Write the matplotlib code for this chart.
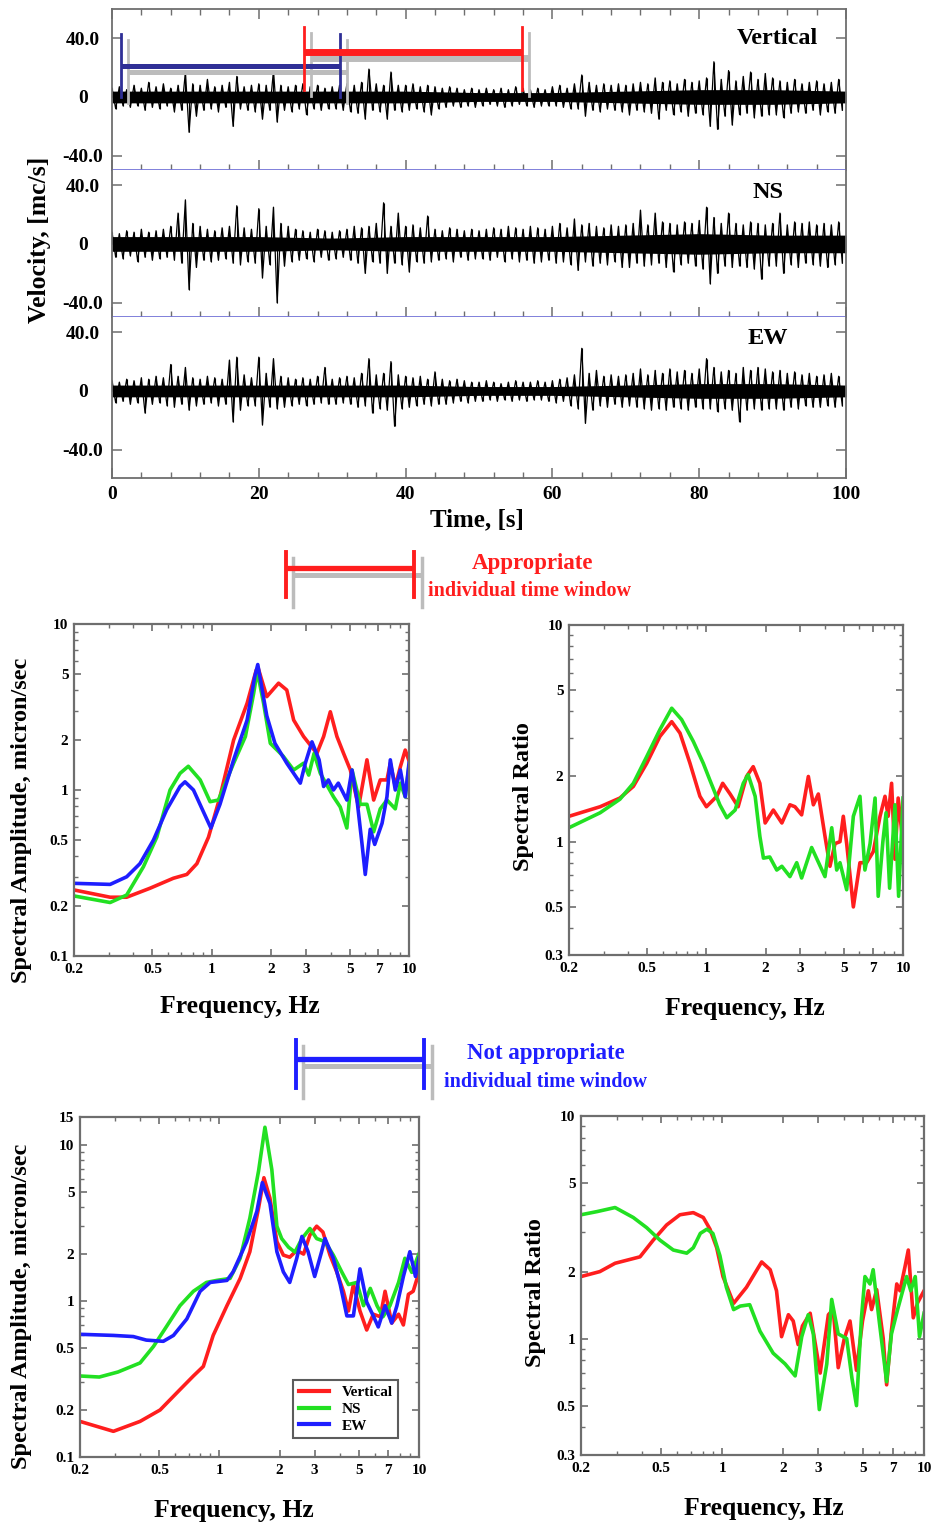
import numpy as np
import matplotlib
matplotlib.use('Agg')
import matplotlib.pyplot as plt
from matplotlib.lines import Line2D

# ---- seismic records, 0.5 s samples (velocity, mc/s) ----
components = ['Vertical', 'NS', 'EW']
vert = [
    6, -8, 7, -6, 5, -7, 8, -6, 6, -9, 10, -7, 7, -8, 9, -6, 6, -10, 8, -9,
    17, -24, 9, -13, 8, -9, 12, -8, 7, -10, 8, -7, 10, -20, 14, -8, 7, -9, 8, -10,
    9, -15, 8, -9, 18, -17, 8, -9, 7, -10, 8, -8, 9, -12, 7, -8, 8, -9, 6, -8,
    7, -8, 8, -9, 9, -10, 8, -11, 10, -15, 19, -9, 9, -10, 8, -15, 17, -9, 8, -10,
    8, -9, 9, -8, 7, -10, 8, -12, 7, -8, 6, -7, 7, -6, 6, -7, 5, -6, 6, -7,
    5, -6, 6, -5, 5, -6, 6, -7, 5, -6, 7, -5, 6, -6, 5, -7, 6, -6, 5, -6,
    7, -6, 8, -7, 6, -8, 9, -8, 15, -13, 10, -9, 8, -10, 9, -8, 8, -9, 9, -10,
    8, -12, 9, -9, 10, -10, 9, -11, 13, -15, 10, -9, 11, -12, 9, -10, 12, -13, 10, -11,
    11, -12, 13, -20, 24, -22, 12, -13, 18, -19, 11, -12, 14, -11, 17, -14, 12, -13, 16, -12,
    13, -12, 11, -14, 10, -11, 12, -10, 9, -11, 10, -9, 11, -12, 9, -10, 10, -11, 12, -9]
ns = [
    8, -9, 7, -10, 9, -8, 8, -12, 10, -9, 8, -11, 9, -10, 10, -9, 12, -11, 21, -13,
    30, -31, 14, -16, 12, -11, 10, -12, 9, -11, 11, -10, 12, -13, 26, -14, 11, -12, 10, -13,
    24, -23, 12, -14, 25, -40, 14, -15, 12, -12, 10, -11, 9, -10, 8, -12, 10, -9, 9, -11,
    8, -10, 9, -9, 10, -11, 12, -13, 11, -20, 12, -12, 14, -13, 28, -20, 12, -13, 21, -14,
    12, -19, 13, -12, 11, -13, 19, -12, 10, -11, 9, -10, 11, -12, 10, -9, 9, -11, 10, -10,
    9, -10, 10, -11, 11, -9, 10, -12, 12, -10, 11, -12, 10, -11, 12, -13, 11, -12, 10, -11,
    12, -13, 14, -12, 11, -14, 17, -18, 13, -12, 14, -15, 12, -13, 11, -14, 13, -12, 12, -16,
    13, -16, 14, -13, 23, -15, 13, -14, 21, -13, 15, -16, 14, -19, 13, -14, 15, -13, 14, -15,
    16, -17, 25, -27, 18, -20, 14, -15, 21, -16, 14, -15, 13, -16, 15, -17, 14, -24, 13, -15,
    14, -15, 21, -20, 13, -14, 15, -16, 14, -13, 15, -14, 13, -15, 14, -16, 13, -14, 15, -13]
ew = [
    7, -8, 6, -7, 8, -9, 7, -8, 9, -15, 8, -9, 10, -8, 9, -10, 18, -11, 10, -9,
    16, -13, 9, -10, 8, -9, 10, -8, 9, -10, 8, -9, 21, -21, 23, -13, 11, -10, 9, -10,
    23, -23, 12, -11, 22, -12, 10, -11, 9, -10, 8, -9, 9, -10, 8, -9, 10, -8, 16, -9,
    8, -9, 9, -8, 10, -9, 9, -11, 12, -10, 22, -15, 11, -12, 12, -13, 20, -24, 11, -12,
    10, -11, 9, -10, 10, -9, 8, -10, 13, -9, 8, -9, 7, -8, 8, -7, 7, -8, 6, -7,
    6, -7, 7, -6, 6, -7, 5, -6, 6, -7, 7, -6, 6, -7, 6, -6, 7, -6, 6, -7,
    7, -8, 8, -7, 9, -10, 11, -12, 29, -22, 12, -13, 14, -10, 10, -11, 11, -9, 10, -11,
    11, -10, 12, -11, 15, -12, 11, -13, 14, -12, 12, -13, 15, -11, 13, -12, 14, -13, 12, -11,
    15, -12, 22, -12, 16, -14, 13, -12, 14, -13, 12, -21, 16, -13, 14, -12, 16, -13, 15, -12,
    13, -12, 14, -13, 12, -11, 13, -12, 11, -10, 12, -11, 10, -11, 11, -10, 12, -11, 10, -10]
traces = [vert, ns, ew]

# half-width of the dense noise core, read every 10 s
core_times = [0, 10, 20, 30, 40, 50, 60, 70, 80, 90, 100]
vert_core = [4, 4, 4, 4, 4, 3, 3, 4, 5, 5, 4]
ns_core = [5, 5, 5, 4, 5, 5, 5, 6, 7, 6, 6]
ew_core = [4, 4, 4, 4, 4, 3, 3, 4, 5, 5, 4]
cores = [vert_core, ns_core, ew_core]

# time windows (s)
good_window = (26.2, 55.9)
bad_window = (1.2, 31.0)

# ---- spectra for the appropriate window ----
f_a_v = [0.2, 0.305, 0.37, 0.486, 0.638, 0.747, 0.84, 0.962, 1.10, 1.29, 1.51, 1.68, 1.72, 1.90, 2.18, 2.40, 2.60,
         2.92, 3.41, 3.69, 3.99, 4.31, 4.66, 5.04, 5.55, 6.12, 6.62, 7.15, 7.73, 8.04, 8.52, 9.04, 9.57, 10.0]
a_a_v = [0.25, 0.226, 0.226, 0.256, 0.294, 0.31, 0.36, 0.52, 0.91, 2.0, 3.33, 5.28, 5.4, 3.65, 4.4, 4.0, 2.64,
         2.1, 1.66, 2.1, 2.96, 2.1, 1.66, 1.32, 0.79, 1.52, 0.87, 1.15, 1.15, 1.45, 1.05, 1.38, 1.74, 1.5]
f_a_ns = [0.2, 0.305, 0.37, 0.45, 0.526, 0.614, 0.69, 0.76, 0.873, 0.98, 1.08, 1.29, 1.48, 1.63, 1.70, 1.83, 1.98,
          2.30, 2.60, 2.92, 3.10, 3.30, 3.55, 4.14, 4.48, 4.84, 5.14, 5.66, 6.12, 6.62, 7.15, 7.73, 8.52, 9.04, 9.57, 10.0]
a_a_ns = [0.23, 0.21, 0.233, 0.345, 0.52, 1.0, 1.26, 1.39, 1.15, 0.85, 0.87, 1.45, 2.1, 3.82, 5.2, 3.33, 1.91,
          1.6, 1.32, 1.45, 1.23, 1.66, 1.26, 0.91, 0.79, 0.59, 1.32, 0.82, 0.82, 0.56, 0.77, 0.87, 0.77, 1.1, 0.91, 1.4]
f_a_ew = [0.2, 0.305, 0.37, 0.432, 0.506, 0.59, 0.69, 0.731, 0.807, 0.906, 0.989, 1.10, 1.29, 1.51, 1.65, 1.71,
          1.90, 2.09, 2.40, 2.81, 2.98, 3.22, 3.5, 3.69, 3.9, 4.14, 4.38, 4.84, 5.14, 5.45, 5.77, 6.0, 6.36, 6.7,
          7.3, 7.73, 8.04, 8.52, 9.04, 9.57, 10.0]
a_a_ew = [0.274, 0.27, 0.30, 0.36, 0.50, 0.76, 1.05, 1.12, 1.0, 0.74, 0.59, 0.82, 1.52, 2.64, 4.8, 5.7,
          2.8, 1.91, 1.45, 1.1, 1.45, 1.95, 1.52, 1.05, 1.15, 1.0, 1.1, 0.87, 1.32, 0.87, 0.48, 0.31, 0.58, 0.47,
          0.63, 0.91, 1.52, 1.0, 1.32, 0.91, 1.45]

f_b_v = [0.2, 0.288, 0.363, 0.425, 0.497, 0.58, 0.666, 0.734, 0.825, 0.927, 1.0, 1.13, 1.21, 1.32, 1.45, 1.60,
         1.73, 1.87, 1.99, 2.19, 2.42, 2.66, 2.82, 3.05, 3.3, 3.5, 3.71, 4.01, 4.25, 4.51, 4.78, 4.97, 5.17, 5.59,
         6.04, 6.53, 7.06, 7.64, 8.1, 8.4, 8.75, 9.1, 9.45, 10.0]
r_b_v = [1.31, 1.45, 1.59, 1.8, 2.3, 3.06, 3.58, 3.17, 2.3, 1.62, 1.45, 1.62, 1.86, 1.66, 1.45, 2.0,
         2.22, 1.86, 1.22, 1.4, 1.22, 1.48, 1.45, 1.33, 2.0, 1.48, 1.66, 1.06, 0.77, 0.98, 1.0, 1.31, 0.98, 0.50,
         0.8, 0.8, 0.9, 1.31, 1.62, 1.31, 1.86, 0.83, 1.59, 0.98]
f_b_ns = [0.2, 0.288, 0.363, 0.425, 0.497, 0.58, 0.666, 0.748, 0.858, 0.964, 1.04, 1.17, 1.27, 1.40, 1.54, 1.63,
          1.77, 1.87, 1.95, 2.1, 2.28, 2.42, 2.66, 2.88, 3.05, 3.43, 4.01, 4.34, 4.6, 4.78, 5.17, 5.59, 6.04, 6.4,
          6.8, 7.21, 7.48, 7.9, 8.2, 8.55, 9.1, 9.5, 10.0]
r_b_ns = [1.16, 1.36, 1.57, 1.86, 2.47, 3.29, 4.13, 3.66, 2.9, 2.3, 1.93, 1.48, 1.29, 1.4, 1.86, 2.04,
          1.62, 1.06, 0.84, 0.85, 0.74, 0.77, 0.69, 0.8, 0.68, 0.94, 0.69, 1.16, 0.74, 0.8, 0.6, 1.31, 1.62, 0.74,
          0.98, 1.59, 0.56, 1.0, 1.36, 0.61, 1.48, 0.56, 1.59]

# ---- spectra for the not appropriate window ----
f_c_v = [0.2, 0.294, 0.4, 0.504, 0.634, 0.74, 0.83, 0.93, 1.09, 1.27, 1.42, 1.57, 1.67, 1.79, 1.94, 2.09, 2.25,
         2.44, 2.64, 2.84, 3.07, 3.3, 3.58, 3.87, 4.18, 4.43, 4.69, 5.06, 5.47, 5.9, 6.4, 6.76, 7.3, 7.9, 8.35,
         8.85, 9.35, 10.0]
a_c_v = [0.169, 0.146, 0.169, 0.20, 0.27, 0.33, 0.38, 0.6, 0.93, 1.39, 2.06, 3.92, 6.13, 4.54, 2.39, 1.96, 1.9,
         2.1, 1.99, 2.64, 3.0, 2.75, 1.96, 1.53, 1.15, 0.86, 1.27, 0.86, 0.65, 0.82, 0.79, 1.15, 0.72, 0.82, 0.70,
         1.1, 1.15, 1.52]
f_c_ns = [0.2, 0.25, 0.31, 0.4, 0.467, 0.545, 0.634, 0.74, 0.86, 0.97, 1.13, 1.27, 1.42, 1.57, 1.69, 1.83, 1.94,
          2.05, 2.22, 2.39, 2.59, 2.84, 3.07, 3.38, 3.72, 4.1, 4.43, 4.88, 5.27, 5.7, 6.16, 6.6, 7.15, 7.9, 8.5,
          9.2, 10.0]
a_c_ns = [0.33, 0.325, 0.35, 0.40, 0.51, 0.69, 0.93, 1.15, 1.31, 1.35, 1.39, 1.87, 3.38, 6.77, 12.9, 6.9, 3.0,
          2.5, 2.2, 2.05, 2.5, 2.9, 2.5, 2.39, 1.96, 1.53, 1.27, 1.31, 0.93, 1.2, 0.93, 0.79, 0.93, 1.31, 1.87,
          1.52, 2.0]
f_c_ew = [0.2, 0.294, 0.37, 0.43, 0.523, 0.588, 0.686, 0.8, 0.898, 1.09, 1.17, 1.37, 1.54, 1.64, 1.79, 1.94, 2.09,
          2.25, 2.44, 2.59, 2.78, 3.0, 3.25, 3.38, 3.72, 4.03, 4.35, 4.69, 5.06, 5.47, 5.9, 6.25, 6.76, 7.3, 7.75,
          8.35, 9.0, 9.6, 10.0]
a_c_ew = [0.61, 0.6, 0.59, 0.56, 0.55, 0.6, 0.765, 1.15, 1.31, 1.35, 1.53, 2.39, 3.74, 5.7, 4.2, 2.06, 1.53,
          1.31, 1.87, 2.58, 2.06, 1.43, 2.06, 2.5, 1.87, 1.27, 0.80, 0.80, 1.6, 0.98, 0.8, 0.68, 0.93, 0.72, 0.93,
          1.43, 2.06, 1.43, 1.87]

f_d_v = [0.2, 0.248, 0.295, 0.392, 0.456, 0.531, 0.618, 0.72, 0.807, 0.871, 0.94, 1.01, 1.14, 1.32, 1.57, 1.73,
         1.86, 1.97, 2.13, 2.25, 2.38, 2.5, 2.73, 3.06, 3.36, 3.55, 3.76, 4.03, 4.3, 4.63, 4.96, 5.3, 5.5, 5.83,
         6.28, 6.53, 6.9, 7.33, 7.6, 8.05, 8.36, 8.85, 9.3, 10.0]
r_d_v = [1.90, 2.0, 2.18, 2.33, 2.77, 3.24, 3.6, 3.68, 3.5, 3.1, 2.56, 1.9, 1.44, 1.7, 2.21, 2.04,
         1.64, 1.02, 1.28, 1.2, 0.94, 1.14, 1.3, 0.70, 1.28, 1.35, 0.74, 1.0, 1.2, 0.72, 1.2, 1.64, 1.35, 1.66,
         1.0, 0.62, 1.09, 1.76, 1.64, 2.1, 2.5, 1.24, 1.45, 1.64]
f_d_ns = [0.2, 0.24, 0.295, 0.363, 0.423, 0.492, 0.573, 0.668, 0.72, 0.78, 0.84, 0.9, 0.975, 1.05, 1.14, 1.23,
          1.37, 1.54, 1.79, 2.05, 2.3, 2.48, 2.67, 2.83, 3.03, 3.3, 3.49, 3.76, 4.14, 4.4, 4.63, 4.9, 5.1, 5.4,
          5.6, 6.0, 6.53, 6.9, 7.4, 8.2, 8.6, 9.05, 9.5, 10.0]
r_d_ns = [3.6, 3.72, 3.88, 3.5, 3.15, 2.77, 2.5, 2.42, 2.56, 2.97, 3.1, 2.97, 2.36, 1.7, 1.35, 1.4,
          1.42, 1.08, 0.86, 0.77, 0.68, 1.02, 1.28, 1.05, 0.48, 0.77, 1.5, 1.05, 1.0, 0.66, 0.50, 1.24, 1.9, 1.76,
          2.04, 1.2, 0.64, 1.05, 1.35, 1.9, 1.64, 1.9, 1.02, 1.3]

freq_ticks = [0.2, 0.5, 1, 2, 3, 5, 7, 10]
freq_labels = ['0.2', '0.5', '1', '2', '3', '5', '7', '10']
freq_minor = [0.3, 0.4, 0.6, 0.7, 0.8, 0.9, 4, 6, 8, 9]

W, H = 936, 1526
plt.rcParams['font.family'] = ['Liberation Serif', 'DejaVu Serif']
plt.rcParams['font.weight'] = 'bold'
plt.rcParams['axes.labelweight'] = 'bold'

RED = '#ff1e1e'
GREEN = '#22e022'
BLUE = '#1e1eff'
NAVY = '#2f2f96'
SHADOW = '#bcbcbc'
SPINE = '#6e6e6e'
SEP = '#7676d8'


def rect(l, t, r, b):
    return [l / W, 1 - b / H, (r - l) / W, (b - t) / H]


fig = plt.figure(figsize=(W / 100, H / 100), dpi=100)

# ---------------- velocity records ----------------
boxes = [(112, 9, 846, 170), (112, 170, 846, 317), (112, 317, 846, 478)]
limits = [(-49.7, 59.9), (-49.7, 50.3), (-59.2, 50.3)]
name_pos = [(96.2, 40), (91.5, 34.7), (92.1, 36)]
trace_axes = []
for i, vals in enumerate(traces):
    ax = fig.add_axes(rect(*boxes[i]))
    t = np.arange(len(vals)) * 0.5
    core = np.array(cores[i], dtype=float)
    ax.fill_between(core_times, -core, core, color='black', lw=0, zorder=2)
    ax.vlines(t, 0, vals, color='black', lw=0.8, zorder=2)
    ax.plot(t, vals, color='black', lw=0.9, zorder=2)
    ax.set_xlim(0, 100)
    ax.set_ylim(*limits[i])
    for s in ['left', 'right']:
        ax.spines[s].set_color(SPINE)
        ax.spines[s].set_linewidth(1.3)
    ax.spines['top'].set_visible(i == 0)
    ax.spines['top'].set_color(SPINE)
    ax.spines['top'].set_linewidth(1.3)
    ax.spines['bottom'].set_color(SEP if i < 2 else SPINE)
    ax.spines['bottom'].set_linewidth(1.3)
    ax.set_xticks(np.arange(0, 101, 20))
    ax.set_xticks(np.arange(0, 101, 4), minor=True)
    ax.tick_params(axis='x', which='both', direction='in', top=(i == 0), bottom=True,
                   labelbottom=(i == 2), color=SPINE, labelsize=14, pad=6)
    ax.tick_params(axis='x', which='major', length=7, width=1.1)
    ax.tick_params(axis='x', which='minor', length=4, width=1.0)
    if i < 2:
        for tk in ax.xaxis.get_major_ticks() + ax.xaxis.get_minor_ticks():
            tk.tick1line.set_color(SEP)
    ax.set_yticks([-40, 0, 40])
    ax.set_yticklabels(['-40.0', '0', '40.0'])
    ax.tick_params(axis='y', direction='in', left=True, right=True, length=7, width=1.1,
                   color=SPINE, labelsize=14, pad=21)
    for lbl in ax.get_yticklabels():
        lbl.set_horizontalalignment('center')
    ax.text(name_pos[i][0], name_pos[i][1], components[i], ha='right', va='center', fontsize=17.5)
    trace_axes.append(ax)


def window_bar(ax, win, color, v0, v1, yh, lw_h, lw_v):
    # grey shadow first, shifted right and down
    dx, dy = 0.95, -4.0
    ax.plot([win[0] + dx, win[1] + dx], [yh + dy, yh + dy], color=SHADOW, lw=lw_h, zorder=3, solid_capstyle='butt')
    for x in win:
        ax.plot([x + dx, x + dx], [v0 + dy, v1 + dy], color=SHADOW, lw=lw_v, zorder=3)
    ax.plot([win[0], win[1]], [yh, yh], color=color, lw=lw_h, zorder=4, solid_capstyle='butt')
    for x in win:
        ax.plot([x, x], [v0, v1], color=color, lw=lw_v, zorder=4)


window_bar(trace_axes[0], bad_window, NAVY, 0, 43, 21, 3.6, 2.0)
window_bar(trace_axes[0], good_window, RED, 4.8, 47.6, 30.6, 5.0, 2.0)

fig.text(40 / W, 1 - 240 / H, 'Velocity, [mc/s]', rotation=90, ha='center', va='center', fontsize=18.5)
fig.text(477 / W, 1 - 520 / H, 'Time, [s]', ha='center', va='center', fontsize=18)

# ---------------- window icons ----------------
ov = fig.add_axes([0, 0, 1, 1])
ov.set_xlim(0, W)
ov.set_ylim(H, 0)
ov.axis('off')


def icon(x0, x1, ytop, ybot, yh, color):
    ov.plot([x0 + 7, x1 + 8], [yh + 7, yh + 7], color=SHADOW, lw=3.6, solid_capstyle='butt')
    for x in (x0 + 7, x1 + 8):
        ov.plot([x, x], [ytop + 6, ybot + 10], color=SHADOW, lw=2.5)
    ov.plot([x0, x1], [yh, yh], color=color, lw=3.8, solid_capstyle='butt')
    for x in (x0, x1):
        ov.plot([x, x], [ytop, ybot], color=color, lw=2.8)


icon(286, 414, 552, 597, 568, RED)
ov.text(533, 564, 'Appropriate', color=RED, ha='center', va='center', fontsize=16.5)
ov.text(530, 591, 'individual time window', color=RED, ha='center', va='center', fontsize=14.5)
icon(296, 424, 1040, 1088, 1059, BLUE)
ov.text(546, 1054, 'Not appropriate', color=BLUE, ha='center', va='center', fontsize=16.5)
ov.text(545, 1082, 'individual time window', color=BLUE, ha='center', va='center', fontsize=14.5)

# ---------------- spectra ----------------


def spec_axes(box, ylim, yticks, ylabels, yminor):
    ax = fig.add_axes(rect(*box))
    ax.set_xscale('log')
    ax.set_yscale('log')
    ax.set_xlim(0.2, 10)
    ax.set_ylim(*ylim)
    ax.set_xticks(freq_ticks)
    ax.set_xticklabels(freq_labels)
    ax.set_xticks(freq_minor, minor=True)
    ax.set_xticklabels([], minor=True)
    ax.set_yticks(yticks)
    ax.set_yticklabels(ylabels)
    ax.set_yticks(yminor, minor=True)
    ax.set_yticklabels([], minor=True)
    ax.tick_params(which='both', direction='in', top=True, right=True, color=SPINE, labelsize=11)
    ax.tick_params(which='major', length=5, width=1.2)
    ax.tick_params(which='minor', length=3, width=1.0)
    ax.tick_params(axis='x', pad=5)
    ax.tick_params(axis='y', pad=4)
    for s in ax.spines.values():
        s.set_color(SPINE)
        s.set_linewidth(1.6)
    return ax


amp_minor = [0.3, 0.4, 0.6, 0.7, 0.8, 0.9, 3, 4, 6, 7, 8, 9]
ratio_minor = [0.4, 0.6, 0.7, 0.8, 0.9, 3, 4, 6, 7, 8, 9]

ax_a = spec_axes((74, 624, 409, 956), (0.1, 10), [0.1, 0.2, 0.5, 1, 2, 5, 10],
                 ['0.1', '0.2', '0.5', '1', '2', '5', '10'], amp_minor)
ax_a.plot(f_a_v, a_a_v, color=RED, lw=2.6)
ax_a.plot(f_a_ns, a_a_ns, color=GREEN, lw=2.6)
ax_a.plot(f_a_ew, a_a_ew, color=BLUE, lw=2.6)

ax_b = spec_axes((569, 625, 903, 955), (0.3, 10), [0.3, 0.5, 1, 2, 5, 10],
                 ['0.3', '0.5', '1', '2', '5', '10'], ratio_minor)
ax_b.plot(f_b_v, r_b_v, color=RED, lw=2.6)
ax_b.plot(f_b_ns, r_b_ns, color=GREEN, lw=2.6)

ax_c = spec_axes((80, 1117, 419, 1457), (0.1, 15), [0.1, 0.2, 0.5, 1, 2, 5, 10, 15],
                 ['0.1', '0.2', '0.5', '1', '2', '5', '10', '15'], amp_minor)
ax_c.plot(f_c_v, a_c_v, color=RED, lw=2.6)
ax_c.plot(f_c_ns, a_c_ns, color=GREEN, lw=2.6)
ax_c.plot(f_c_ew, a_c_ew, color=BLUE, lw=2.6)
handles = [Line2D([], [], color=c, lw=3) for c in (RED, GREEN, BLUE)]
leg = ax_c.legend(handles, components, loc='lower right', bbox_to_anchor=(0.938, 0.056),
                  fancybox=False, edgecolor='#333333', fontsize=11, handlelength=2.0,
                  borderaxespad=0, labelspacing=0.2, borderpad=0.35, handletextpad=0.8)
leg.get_frame().set_linewidth(1.5)

ax_d = spec_axes((581, 1116, 924, 1455), (0.3, 10), [0.3, 0.5, 1, 2, 5, 10],
                 ['0.3', '0.5', '1', '2', '5', '10'], ratio_minor)
ax_d.plot(f_d_v, r_d_v, color=RED, lw=2.6)
ax_d.plot(f_d_ns, r_d_ns, color=GREEN, lw=2.6)

for (x, y, txt) in [(22, 820, 'Spectral Amplitude, micron/sec'), (523, 797, 'Spectral Ratio'),
                    (22, 1306, 'Spectral Amplitude, micron/sec'), (535, 1293, 'Spectral Ratio')]:
    fig.text(x / W, 1 - y / H, txt, rotation=90, ha='center', va='center', fontsize=17.5)
for (x, y) in [(240, 1007), (745, 1008), (234, 1510), (764, 1508)]:
    fig.text(x / W, 1 - y / H, 'Frequency, Hz', ha='center', va='center', fontsize=18.5)

fig.savefig('out.png', dpi=100, facecolor='white')
